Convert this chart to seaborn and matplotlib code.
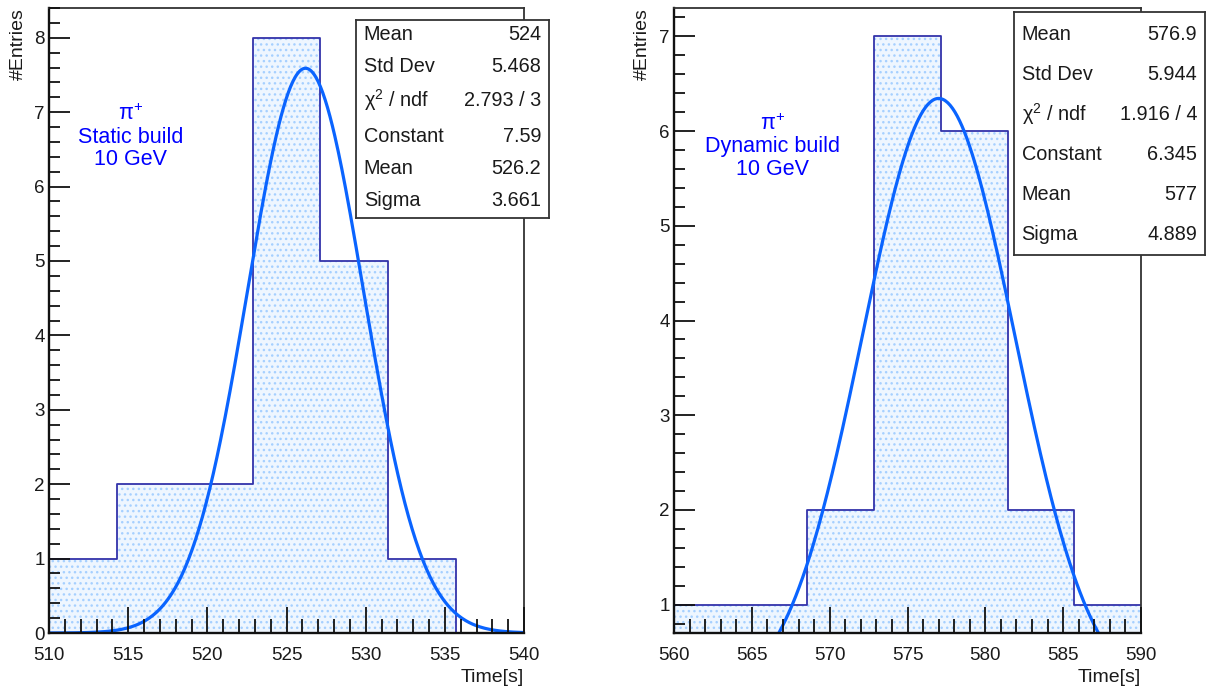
import numpy as np
import pandas as pd
import matplotlib
matplotlib.use("Agg")
import matplotlib.pyplot as plt
from matplotlib.ticker import MultipleLocator
import seaborn as sns

# ---------------- data ----------------
static_edges = [510, 514.2857, 518.5714, 522.8571, 527.1429, 531.4286, 535.7143, 540]
static_counts = [1, 2, 2, 8, 5, 1, 0]
static_fit = {"Constant": 7.59, "Mean": 526.2, "Sigma": 3.661}
static_stats_labels = ["Mean", "Std Dev", "$\\mathrm{\\chi}^{2}$ / ndf", "Constant", "Mean", "Sigma"]
static_stats_values = ["524", "5.468", "2.793 / 3", "7.59", "526.2", "3.661"]

dynamic_edges = [560, 564.2857, 568.5714, 572.8571, 577.1429, 581.4286, 585.7143, 590]
dynamic_counts = [1, 1, 2, 7, 6, 2, 1]
dynamic_fit = {"Constant": 6.345, "Mean": 577.0, "Sigma": 4.889}
dynamic_stats_labels = ["Mean", "Std Dev", "$\\mathrm{\\chi}^{2}$ / ndf", "Constant", "Mean", "Sigma"]
dynamic_stats_values = ["576.9", "5.944", "1.916 / 4", "6.345", "577", "4.889"]

x_label = "Time[s]"
y_label = "#Entries"
static_text = ["$\\mathrm{\\pi}^{+}$", "Static build", "10 GeV"]
dynamic_text = ["$\\mathrm{\\pi}^{+}$", "Dynamic build", "10 GeV"]

# ---------------- style ----------------
sns.set_theme(style="white")
plt.rcParams["font.family"] = ["Liberation Sans", "DejaVu Sans"]
plt.rcParams["mathtext.fontset"] = "custom"
plt.rcParams["mathtext.rm"] = "Liberation Sans"
plt.rcParams["mathtext.it"] = "Liberation Sans:italic"
plt.rcParams["hatch.linewidth"] = 1.0
plt.rcParams["hatch.color"] = "#a6d0ff"

OUTLINE = "#3333aa"
CURVE = "#0a64ff"
FRAME = "#333333"
AXIS = "#111111"
TXT = "#1a1a1a"

fig = plt.figure(figsize=(12.14, 6.93), dpi=100)


def draw_panel(rect, edges, counts, fit, ylim, text_lines, text_pos, box_rect,
               box_labels, box_values, row_ys, ylab_x):
    ax = fig.add_axes(rect)
    edge_list = list(edges)
    e = np.asarray(edges, dtype=float)
    centers = (e[:-1] + e[1:]) / 2
    df = pd.DataFrame({"t": centers, "w": counts})
    # dotted light-blue fill
    sns.histplot(data=df, x="t", weights="w", bins=edge_list, element="step",
                 fill=True, ax=ax, color="white", alpha=1, linewidth=0)
    for coll in ax.collections:
        coll.set_facecolor("#eef6ff")
        coll.set_hatch("...")
        coll.set_edgecolor("#a6d0ff")
        coll.set_linewidth(0)
    # outline
    sns.histplot(data=df, x="t", weights="w", bins=edge_list, element="step",
                 fill=False, ax=ax, color=OUTLINE, linewidth=1.3)
    # gaussian fit
    xs = np.linspace(e[0], e[-1], 400)
    ys = fit["Constant"] * np.exp(-0.5 * ((xs - fit["Mean"]) / fit["Sigma"]) ** 2)
    sns.lineplot(x=xs, y=ys, ax=ax, color=CURVE, linewidth=2.3)

    ax.set_axisbelow(False)
    ax.set_xlim(e[0], e[-1])
    ax.set_ylim(*ylim)
    ax.set_xlabel("")
    ax.set_ylabel("")
    for name, s in ax.spines.items():
        if name in ("left", "bottom"):
            s.set_color(AXIS)
            s.set_linewidth(1.7)
        else:
            s.set_color(FRAME)
            s.set_linewidth(1.3)
    ax.xaxis.set_major_locator(MultipleLocator(5))
    ax.xaxis.set_minor_locator(MultipleLocator(1))
    ax.yaxis.set_major_locator(MultipleLocator(1))
    ax.yaxis.set_minor_locator(MultipleLocator(0.2))
    ax.tick_params(axis="both", which="both", direction="in", colors=AXIS,
                   labelcolor=TXT, top=False, right=False, bottom=True, left=True)
    ax.tick_params(axis="x", which="major", length=19, width=1.3, labelsize=13.5, pad=10)
    ax.tick_params(axis="x", which="minor", length=10, width=1.3)
    ax.tick_params(axis="y", which="major", length=15, width=1.3, labelsize=13.5, pad=3)
    ax.tick_params(axis="y", which="minor", length=8, width=1.3)

    ax.text(1.0, -0.058, x_label, transform=ax.transAxes, ha="right", va="top",
            fontsize=14, color=TXT)
    ax.text(ylab_x, 1.0, y_label, transform=ax.transAxes, ha="right", va="top",
            rotation=90, fontsize=14, color=TXT)

    for line, (tx, ty) in zip(text_lines, text_pos):
        ax.text(tx, ty, line, transform=ax.transAxes, ha="center", va="center",
                fontsize=15.5, color="#0000ff")

    # stats box
    bx = fig.add_axes(box_rect)
    bx.set_xlim(0, 1)
    bx.set_ylim(0, 1)
    bx.set_xticks([])
    bx.set_yticks([])
    bx.set_facecolor("white")
    for s in bx.spines.values():
        s.set_color(FRAME)
        s.set_linewidth(1.3)
    for lab, val, ry in zip(box_labels, box_values, row_ys):
        bx.text(0.04, ry, lab, ha="left", va="center", fontsize=14.3, color=TXT)
        bx.text(0.96, ry, val, ha="right", va="center", fontsize=14.3, color=TXT)
    return ax


H = 693.0
W = 1214.0

# left panel
draw_panel(
    rect=[49 / W, 1 - 633 / H, (524 - 49) / W, (633 - 8) / H],
    edges=static_edges, counts=static_counts, fit=static_fit, ylim=(0, 8.4),
    text_lines=static_text,
    text_pos=[((131 - 49) / 475, 1 - (114 - 8) / 625),
              ((131 - 49) / 475, 1 - (137 - 8) / 625),
              ((131 - 49) / 475, 1 - (159 - 8) / 625)],
    box_rect=[356 / W, 1 - 218 / H, (549 - 356) / W, (218 - 20) / H],
    box_labels=static_stats_labels, box_values=static_stats_values,
    row_ys=[1 - (34 - 20) / 198, 1 - (67 - 20) / 198, 1 - (100 - 20) / 198,
            1 - (136 - 20) / 198, 1 - (168 - 20) / 198, 1 - (201 - 20) / 198],
    ylab_x=-0.047,
)

# right panel
draw_panel(
    rect=[674 / W, 1 - 633 / H, (1141 - 674) / W, (633 - 8) / H],
    edges=dynamic_edges, counts=dynamic_counts, fit=dynamic_fit, ylim=(0.7, 7.3),
    text_lines=dynamic_text,
    text_pos=[((773 - 674) / 467, 1 - (124 - 8) / 625),
              ((773 - 674) / 467, 1 - (146 - 8) / 625),
              ((773 - 674) / 467, 1 - (169 - 8) / 625)],
    box_rect=[1014 / W, 1 - 255 / H, (1205 - 1014) / W, (255 - 12) / H],
    box_labels=dynamic_stats_labels, box_values=dynamic_stats_values,
    row_ys=[1 - (34 - 12) / 243, 1 - (74 - 12) / 243, 1 - (114 - 12) / 243,
            1 - (155 - 12) / 243, 1 - (194 - 12) / 243, 1 - (234 - 12) / 243],
    ylab_x=-0.049,
)

fig.savefig("out.png", dpi=100, facecolor="white")
